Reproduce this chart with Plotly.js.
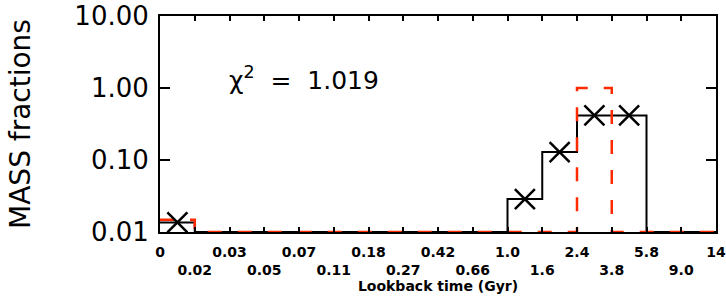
<!DOCTYPE html>
<html><head><meta charset="utf-8">
<script src="https://cdn.plot.ly/plotly-3.0.1.min.js"></script>
<style>html,body{margin:0;padding:0;background:#fff;}</style>
</head><body><div id="chart" style="width:726px;height:296px;"></div>
<script>
// Bin edges of lookback time (Gyr), shown as equally spaced tick labels
const binEdgeLabels = ['0','0.02','0.03','0.05','0.07','0.11','0.18','0.27','0.42','0.66','1.0','1.6','2.4','3.8','5.8','9.0','14'];
// Recovered mass fractions per bin (black, with crosses)
const recoveredFractions = [0.0136,0,0,0,0,0,0,0,0,0,0.0287,0.129,0.416,0.416,0,0];
// Input mass fractions per bin (red dashed)
const inputFractions = [0.0148,0,0,0,0,0,0,0,0,0,0,0,1.0,0,0,0];
const chiSquared = 1.019;
const yFloor = 0.01; // zero bins drawn on the bottom of the log axis

const edgeIdx = binEdgeLabels.map((_, i) => i);
function stepY(vals) {
  const v = vals.concat([vals[vals.length - 1]]);
  return v.map(d => (d > 0 ? d : yFloor));
}
const markX = [], markY = [];
recoveredFractions.forEach((v, i) => { if (v > 0) { markX.push(i + 0.5); markY.push(v); } });

const black = '#000000', red = '#ff2a00';
const traces = [
  { x: edgeIdx, y: stepY(recoveredFractions), mode: 'lines', line: { shape: 'hv', color: black, width: 2 }, hoverinfo: 'skip' },
  { x: edgeIdx, y: stepY(inputFractions), mode: 'lines', line: { shape: 'hv', color: red, width: 2.5, dash: '14px,16px' }, hoverinfo: 'skip' },
  { x: markX, y: markY, mode: 'markers', marker: { symbol: 'x-thin', size: 20, color: black, line: { color: black, width: 2.5 } }, hoverinfo: 'skip' }
];

// alternate the edge labels on two rows
const xTickText = edgeIdx.map(i => (i % 2 === 0 ? binEdgeLabels[i] : '<br>' + binEdgeLabels[i]));

const layout = {
  width: 726, height: 296,
  margin: { l: 160, r: 10, t: 16, b: 64 },
  paper_bgcolor: '#fff', plot_bgcolor: '#fff',
  showlegend: false,
  font: { family: 'DejaVu Sans', color: black },
  xaxis: {
    range: [0, 16], tickvals: edgeIdx, ticktext: xTickText, tickangle: 0,
    ticks: 'inside', ticklen: 5, tickwidth: 2, tickcolor: black,
    showline: true, linewidth: 2, linecolor: black, mirror: 'ticks',
    showgrid: false, zeroline: false, automargin: false, ticklabelstandoff: 6, ticklabeloverflow: 'allow',
    tickfont: { family: 'DejaVu Sans', size: 14, color: black, weight: 'bold' },
    title: { text: 'Lookback time (Gyr)', font: { family: 'DejaVu Sans', size: 14, weight: 'bold', color: black }, standoff: 4 }
  },
  yaxis: {
    type: 'log', range: [-2, 1], dtick: 1, tickformat: '.2f',
    ticks: 'inside', ticklen: 10, tickwidth: 2, tickcolor: black,
    showline: true, linewidth: 2, linecolor: black, mirror: 'ticks',
    showgrid: false, zeroline: false, automargin: 'left', ticklabelstandoff: 4,
    tickfont: { family: 'DejaVu Sans', size: 26, color: black },
    title: { text: 'MASS fractions', font: { family: 'DejaVu Sans', size: 28, color: black }, standoff: 36 }
  },
  annotations: [{
    xref: 'paper', yref: 'paper', x: 0.12, y: 0.71, xanchor: 'left', yanchor: 'middle',
    text: '\u03c7<sup>2</sup>\u00a0\u00a0=\u00a0\u00a0' + chiSquared.toFixed(3),
    showarrow: false, font: { family: 'DejaVu Sans', size: 25, color: black }
  }]
};

Plotly.newPlot('chart', traces, layout, { staticPlot: true, displayModeBar: false });
</script></body></html>
